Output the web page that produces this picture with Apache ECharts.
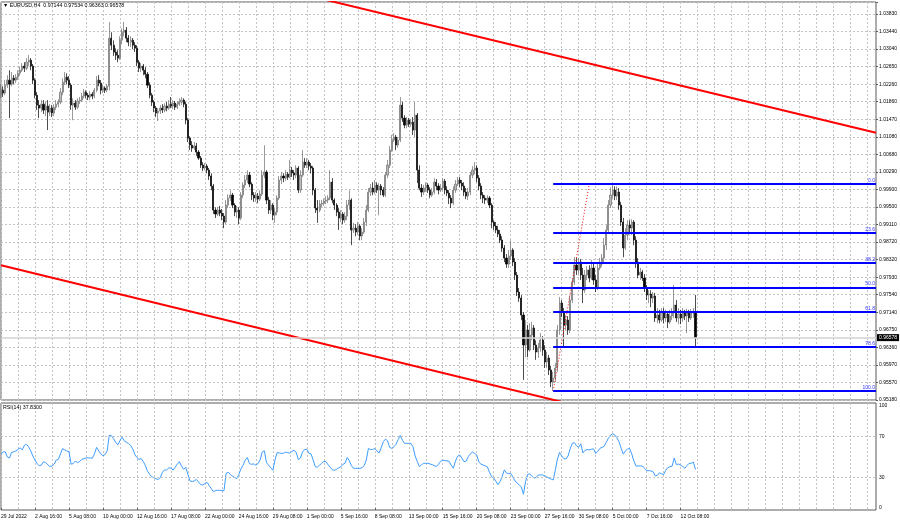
<!DOCTYPE html>
<html><head><meta charset="utf-8">
<script src="https://cdn.jsdelivr.net/npm/echarts@6/dist/echarts.min.js"></script>
<style>html,body{margin:0;padding:0;background:#fff}#c{width:900px;height:523px}</style>
</head><body><div id="c"></div>
<script>
const symbolName = 'EURUSD,H4';
const timeLabels = ['29 Jul 2022','2 Aug 16:00','5 Aug 08:00','10 Aug 00:00','12 Aug 16:00','17 Aug 08:00','22 Aug 00:00','24 Aug 16:00','29 Aug 08:00','1 Sep 00:00','5 Sep 16:00','8 Sep 08:00','13 Sep 00:00','15 Sep 16:00','20 Sep 08:00','23 Sep 00:00','27 Sep 16:00','30 Sep 08:00','5 Oct 00:00','7 Oct 16:00','12 Oct 08:00'];
const priceTicks = ['0.95180','0.95570','0.95970','0.96360','0.96750','0.97140','0.97540','0.97930','0.98320','0.98720','0.99110','0.99500','0.99900','1.00290','1.00680','1.01080','1.01470','1.01860','1.02260','1.02650','1.03040','1.03440','1.03830'];
const rsiTicks = [0, 30, 70, 100];
const rsiLevels = [70, 30];

const opens = [
1.02012,1.02124,1.02057,1.02236,1.02348,1.02258,1.02393,1.02348,1.02415,1.02505,
1.02572,1.02662,1.02617,1.02751,1.02796,1.02662,1.02348,1.02012,1.01788,1.01721,
1.0181,1.01676,1.01766,1.01631,1.01721,1.01609,1.01743,1.0181,1.01855,1.02079,
1.02303,1.02415,1.02348,1.02236,1.01788,1.01833,1.01743,1.01878,1.019,1.0199,
1.02079,1.02012,1.01967,1.02034,1.0199,1.02124,1.02348,1.02281,1.02124,1.02169,
1.02124,1.02214,1.03289,1.03132,1.02975,1.02908,1.02841,1.03244,1.03423,1.03468,
1.03289,1.03199,1.03244,1.03132,1.03065,1.02751,1.02617,1.02662,1.02572,1.02482,
1.02236,1.02012,1.01855,1.01721,1.01609,1.01654,1.01721,1.01676,1.01766,1.01721,
1.0181,1.01766,1.01833,1.01743,1.0181,1.01855,1.019,1.0181,1.01452,1.01049,
1.00892,1.00825,1.0087,1.00735,1.00601,1.00444,1.00377,1.00422,1.00332,1.00198,
0.99974,0.99436,0.99346,0.99436,0.99369,0.99302,0.99167,0.99548,0.99705,0.99772,
0.99548,0.99391,0.99436,0.99257,0.99772,0.99996,1.00108,1.0022,1.00018,0.99772,
0.99705,0.9975,0.99682,0.99794,1.0022,1.00287,0.9966,0.99436,0.99548,0.99324,
0.99391,0.99705,1.00108,1.00198,1.00153,1.00242,1.00175,1.00332,1.00265,1.0022,
1.00377,0.99884,1.0022,1.00511,1.00444,1.00511,1.00422,1.00377,0.99884,0.99481,
0.99436,0.9957,0.99593,0.99638,0.9966,0.99705,1.00063,0.9966,0.99548,0.99391,
0.99257,0.99346,0.99212,0.99302,0.99548,0.9966,0.98988,0.99033,0.98943,0.99078,
0.98854,0.98943,0.99167,0.99436,0.99839,0.99929,0.99839,0.99996,0.99884,0.99974,
0.99884,0.99772,1.0022,1.00444,1.0078,1.01004,1.01071,1.00892,1.01004,1.01788,
1.01497,1.0134,1.01452,1.01362,1.01407,1.01228,1.01564,1.00332,0.99929,0.99839,
0.99929,0.99996,0.99884,0.99772,0.99839,1.00063,0.99974,0.99884,0.99929,1.00086,
0.99884,0.99817,0.99705,0.99593,0.99884,1.00018,1.00108,1.00041,0.99974,0.99839,
0.9975,0.99839,1.0022,1.00332,1.00377,1.00153,0.99974,0.99772,0.99705,0.9966,
0.99705,0.99548,0.99167,0.99078,0.98988,0.98898,0.98764,0.98585,0.98361,0.98226,
0.98406,0.9854,0.98271,0.9798,0.97599,0.97465,0.97084,0.96412,0.96748,0.963,
0.96636,0.96793,0.96412,0.96255,0.96345,0.96524,0.963,0.96031,0.96121,0.95852,
0.95583,0.95673,0.95897,0.96748,0.97353,0.97151,0.9686,0.96972,0.96748,0.9742,
0.97823,0.98204,0.98092,0.98271,0.9798,0.97644,0.9798,0.98092,0.97913,0.98137,
0.97868,0.97689,0.98137,0.98226,0.98361,0.98652,0.98988,0.99548,0.99772,0.99884,
0.9975,0.99839,0.99548,0.99167,0.98585,0.98876,0.991,0.99033,0.99167,0.98764,
0.98271,0.9798,0.98047,0.97913,0.97689,0.97532,0.97554,0.97465,0.9751,0.97017,
0.97084,0.96972,0.97151,0.97017,0.97106,0.96927,0.97062,0.97151,0.97308,0.97017,
0.97106,0.97017,0.97151,0.97062,0.97129,0.97017,0.97129,0.97144
];
const highs = [
1.0226,1.0221,1.0235,1.0246,1.0257,1.0253,1.0246,1.0248,1.0257,1.0266,
1.0273,1.0275,1.0284,1.0291,1.0284,1.0271,1.0239,1.0208,1.0190,1.0190,
1.0190,1.0186,1.0190,1.0181,1.0179,1.0181,1.0190,1.0192,1.0217,1.0239,
1.0253,1.0250,1.0244,1.0228,1.0194,1.0190,1.0194,1.0197,1.0206,1.0215,
1.0212,1.0206,1.0210,1.0208,1.0217,1.0244,1.0246,1.0235,1.0224,1.0221,
1.0226,1.0365,1.0342,1.0324,1.0306,1.0302,1.0333,1.0351,1.0365,1.0354,
1.0336,1.0333,1.0329,1.0320,1.0313,1.0280,1.0273,1.0271,1.0264,1.0253,
1.0230,1.0206,1.0190,1.0177,1.0172,1.0179,1.0181,1.0183,1.0186,1.0190,
1.0197,1.0190,1.0188,1.0188,1.0194,1.0197,1.0194,1.0186,1.0150,1.0109,
1.0098,1.0096,1.0094,1.0078,1.0065,1.0051,1.0049,1.0047,1.0038,1.0026,
1.0002,0.9950,0.9950,0.9953,0.9946,0.9937,0.9966,0.9979,0.9988,0.9982,
0.9959,0.9953,0.9950,0.9984,1.0006,1.0022,1.0033,1.0029,1.0006,0.9984,
0.9984,0.9982,0.9988,1.0033,1.0089,1.0033,0.9973,0.9966,0.9959,0.9948,
0.9977,1.0020,1.0029,1.0026,1.0033,1.0029,1.0056,1.0040,1.0033,1.0044,
1.0042,1.0033,1.0078,1.0060,1.0060,1.0056,1.0049,1.0042,0.9993,0.9966,
0.9966,0.9966,0.9970,0.9975,0.9977,1.0033,1.0015,0.9970,0.9959,0.9948,
0.9944,0.9939,0.9939,0.9966,0.9988,0.9970,0.9915,0.9912,0.9917,0.9912,
0.9903,0.9926,0.9955,0.9993,1.0002,1.0006,1.0011,1.0006,1.0004,1.0002,
0.9995,1.0029,1.0056,1.0087,1.0112,1.0116,1.0112,1.0107,1.0197,1.0186,
1.0156,1.0152,1.0150,1.0147,1.0152,1.0186,1.0161,1.0044,1.0002,1.0000,
1.0006,1.0004,0.9995,0.9993,1.0015,1.0013,1.0004,1.0002,1.0015,1.0013,
0.9997,0.9988,0.9977,0.9997,1.0011,1.0018,1.0018,1.0011,1.0006,0.9993,
0.9993,1.0029,1.0042,1.0051,1.0044,1.0022,1.0004,0.9984,0.9977,0.9977,
0.9975,0.9959,0.9921,0.9917,0.9908,0.9899,0.9885,0.9865,0.9845,0.9854,
0.9876,0.9858,0.9836,0.9805,0.9769,0.9753,0.9715,0.9697,0.9686,0.9690,
0.9693,0.9686,0.9652,0.9646,0.9668,0.9661,0.9641,0.9626,0.9619,0.9594,
0.9581,0.9601,0.9686,0.9749,0.9742,0.9724,0.9708,0.9706,0.9751,0.9791,
0.9838,0.9836,0.9836,0.9834,0.9814,0.9809,0.9818,0.9820,0.9832,0.9827,
0.9798,0.9825,0.9836,0.9845,0.9881,0.9910,0.9966,0.9995,1.0000,0.9997,
0.9997,0.9993,0.9962,0.9926,0.9903,0.9921,0.9921,0.9923,0.9921,0.9885,
0.9836,0.9814,0.9809,0.9800,0.9776,0.9764,0.9764,0.9760,0.9758,0.9724,
0.9720,0.9724,0.9724,0.9720,0.9717,0.9720,0.9724,0.9776,0.9742,0.9724,
0.9720,0.9724,0.9720,0.9722,0.9720,0.9722,0.9724,0.97534
];
const lows = [
1.0194,1.0197,1.0201,1.0217,1.0150,1.0221,1.0226,1.0228,1.0235,1.0244,
1.0253,1.0253,1.0257,1.0266,1.0257,1.0226,1.0194,1.0168,1.0150,1.0163,
1.0159,1.0154,1.0123,1.0154,1.0152,1.0154,1.0168,1.0174,1.0181,1.0201,
1.0224,1.0226,1.0217,1.0168,1.0145,1.0168,1.0170,1.0181,1.0186,1.0194,
1.0194,1.0190,1.0190,1.0192,1.0194,1.0208,1.0221,1.0203,1.0206,1.0206,
1.0208,1.0212,1.0302,1.0289,1.0280,1.0275,1.0280,1.0315,1.0333,1.0320,
1.0311,1.0309,1.0304,1.0298,1.0266,1.0253,1.0253,1.0246,1.0239,1.0217,
1.0194,1.0177,1.0163,1.0152,1.0143,1.0159,1.0161,1.0163,1.0165,1.0168,
1.0172,1.0170,1.0168,1.0170,1.0177,1.0179,1.0174,1.0136,1.0096,1.0078,
1.0074,1.0078,1.0065,1.0056,1.0038,1.0031,1.0033,1.0026,1.0011,0.9988,
0.9935,0.9926,0.9930,0.9930,0.9921,0.9903,0.9912,0.9948,0.9964,0.9948,
0.9930,0.9926,0.9912,0.9921,0.9970,0.9993,1.0004,0.9995,0.9966,0.9962,
0.9962,0.9959,0.9964,0.9975,1.0015,0.9957,0.9935,0.9935,0.9921,0.9915,
0.9932,0.9966,1.0002,1.0006,1.0009,1.0011,1.0015,1.0018,1.0011,1.0015,
0.9982,0.9982,1.0018,1.0038,1.0038,1.0033,1.0026,0.9977,0.9937,0.9915,
0.9939,0.9950,0.9953,0.9957,0.9959,0.9966,0.9959,0.9944,0.9930,0.9899,
0.9917,0.9912,0.9915,0.9921,0.9944,0.9865,0.9892,0.9885,0.9888,0.9876,
0.9876,0.9890,0.9908,0.9939,0.9975,0.9977,0.9979,0.9982,0.9932,0.9977,
0.9973,0.9973,1.0015,1.0038,1.0074,1.0096,1.0078,1.0083,1.0096,1.0141,
1.0127,1.0127,1.0130,1.0130,1.0112,1.0107,1.0004,0.9988,0.9973,0.9977,
0.9984,0.9982,0.9970,0.9973,0.9979,0.9988,0.9979,0.9984,0.9988,0.9979,
0.9975,0.9957,0.9948,0.9955,0.9982,0.9997,0.9995,0.9988,0.9975,0.9968,
0.9966,0.9977,1.0015,1.0024,1.0006,0.9988,0.9968,0.9959,0.9957,0.9959,
0.9948,0.9903,0.9899,0.9892,0.9883,0.9870,0.9850,0.9827,0.9814,0.9814,
0.9832,0.9818,0.9787,0.9751,0.9738,0.9697,0.9563,0.9614,0.9614,0.9626,
0.9652,0.9630,0.9608,0.9612,0.9626,0.9617,0.9590,0.9590,0.9574,0.9547,
0.9538,0.9558,0.9581,0.9664,0.9704,0.9637,0.9675,0.9664,0.9668,0.9735,
0.9776,0.9798,0.9800,0.9787,0.9735,0.9758,0.9787,0.9782,0.9787,0.9776,
0.9760,0.9764,0.9809,0.9816,0.9827,0.9854,0.9894,0.9948,0.9970,0.9966,
0.9966,0.9944,0.9908,0.9838,0.9854,0.9876,0.9892,0.9888,0.9865,0.9814,
0.9791,0.9787,0.9785,0.9760,0.9742,0.9735,0.9726,0.9735,0.9693,0.9690,
0.9690,0.9693,0.9690,0.9693,0.9679,0.9688,0.9697,0.9702,0.9693,0.9688,
0.9688,0.9693,0.9697,0.9668,0.9693,0.9697,0.9702,0.96363
];
const closes = [
1.02124,1.02057,1.02236,1.02348,1.02258,1.02393,1.02348,1.02415,1.02505,1.02572,
1.02662,1.02617,1.02751,1.02796,1.02662,1.02348,1.02012,1.01788,1.01721,1.0181,
1.01676,1.01766,1.01631,1.01721,1.01609,1.01743,1.0181,1.01855,1.02079,1.02303,
1.02415,1.02348,1.02236,1.01788,1.01833,1.01743,1.01878,1.019,1.0199,1.02079,
1.02012,1.01967,1.02034,1.0199,1.02124,1.02348,1.02281,1.02124,1.02169,1.02124,
1.02214,1.03289,1.03132,1.02975,1.02908,1.02841,1.03244,1.03423,1.03468,1.03289,
1.03199,1.03244,1.03132,1.03065,1.02751,1.02617,1.02662,1.02572,1.02482,1.02236,
1.02012,1.01855,1.01721,1.01609,1.01654,1.01721,1.01676,1.01766,1.01721,1.0181,
1.01766,1.01833,1.01743,1.0181,1.01855,1.019,1.0181,1.01452,1.01049,1.00892,
1.00825,1.0087,1.00735,1.00601,1.00444,1.00377,1.00422,1.00332,1.00198,0.99974,
0.99436,0.99346,0.99436,0.99369,0.99302,0.99167,0.99548,0.99705,0.99772,0.99548,
0.99391,0.99436,0.99257,0.99772,0.99996,1.00108,1.0022,1.00018,0.99772,0.99705,
0.9975,0.99682,0.99794,1.0022,1.00287,0.9966,0.99436,0.99548,0.99324,0.99391,
0.99705,1.00108,1.00198,1.00153,1.00242,1.00175,1.00332,1.00265,1.0022,1.00377,
0.99884,1.0022,1.00511,1.00444,1.00511,1.00422,1.00377,0.99884,0.99481,0.99436,
0.9957,0.99593,0.99638,0.9966,0.99705,1.00063,0.9966,0.99548,0.99391,0.99257,
0.99346,0.99212,0.99302,0.99548,0.9966,0.98988,0.99033,0.98943,0.99078,0.98854,
0.98943,0.99167,0.99436,0.99839,0.99929,0.99839,0.99996,0.99884,0.99974,0.99884,
0.99772,1.0022,1.00444,1.0078,1.01004,1.01071,1.00892,1.01004,1.01788,1.01497,
1.0134,1.01452,1.01362,1.01407,1.01228,1.01564,1.00332,0.99929,0.99839,0.99929,
0.99996,0.99884,0.99772,0.99839,1.00063,0.99974,0.99884,0.99929,1.00086,0.99884,
0.99817,0.99705,0.99593,0.99884,1.00018,1.00108,1.00041,0.99974,0.99839,0.9975,
0.99839,1.0022,1.00332,1.00377,1.00153,0.99974,0.99772,0.99705,0.9966,0.99705,
0.99548,0.99167,0.99078,0.98988,0.98898,0.98764,0.98585,0.98361,0.98226,0.98406,
0.9854,0.98271,0.9798,0.97599,0.97465,0.97084,0.96412,0.96748,0.963,0.96636,
0.96793,0.96412,0.96255,0.96345,0.96524,0.963,0.96031,0.96121,0.95852,0.95583,
0.95673,0.95897,0.96748,0.97353,0.97151,0.9686,0.96972,0.96748,0.9742,0.97823,
0.98204,0.98092,0.98271,0.9798,0.97644,0.9798,0.98092,0.97913,0.98137,0.97868,
0.97689,0.98137,0.98226,0.98361,0.98652,0.98988,0.99548,0.99772,0.99884,0.9975,
0.99839,0.99548,0.99167,0.98585,0.98876,0.991,0.99033,0.99167,0.98764,0.98271,
0.9798,0.98047,0.97913,0.97689,0.97532,0.97554,0.97465,0.9751,0.97017,0.97084,
0.96972,0.97151,0.97017,0.97106,0.96927,0.97062,0.97151,0.97308,0.97017,0.97106,
0.97017,0.97151,0.97062,0.97129,0.97017,0.97129,0.97144,0.96578
];
const rsi14 = [
53,55,55,50,49,54.6,55,56,57.5,59,
57,61.5,62.4,60,56,51,47,43.5,41.5,42,
45.4,44.5,42.5,40.8,41,43,47,47.7,53,58.2,
57,56,55.2,43,43.5,46,44.5,45.5,47.7,48.3,
49.1,49.3,49,48.8,53,59.5,56,53,51.2,52.5,
56,71.5,71,68,64.5,62,66,69.5,66,64.5,
63.3,61.5,58,52.5,49.5,47.5,48.5,45.5,41.5,36,
33,30.6,29.6,28.7,27.8,30,35,37.3,37.3,39.3,
39.2,37.2,40,43,45.5,41,38,39.8,33,26.5,
26,26.5,28,25.5,23,22.6,24,25.2,22,19,
16,17,17.5,17.2,17,17,34,35,33,31.2,
30,28.7,33,38.5,42,47,49.5,43.5,42.8,43.3,
42,43.5,47.2,55,56,44.5,42,39.5,37,47,
54.3,54,53.6,53.7,54.7,54.5,53.7,55.6,56.5,54.5,
47.5,49,55,57.5,57.5,53.7,53,47,40.5,40,
42,43.8,45.6,45.5,42.4,40,37.5,37,38,39.3,
40.5,42.8,43.9,49.5,46.4,41.5,38.9,38.9,38.9,38.9,
39.5,41.5,47,58.3,57.4,57.3,58.4,56,53.8,59,
65,67.5,66,59.5,58.5,60,62.5,67.2,71,66.5,
63.4,63.4,63.4,63.4,60,51,45.5,40.6,42.4,43.8,
43.8,43.8,43.2,42.5,41.5,40.6,43,45.8,47,46.5,
46.2,45.7,42,39,46,50.8,51.9,49,45.4,46,
50.3,52.9,55,53.5,52,45,43,42.2,41.3,40.4,
35,30.7,29.3,26.2,23,26,31,37.3,34.4,33.6,
34,30.5,26.5,24.6,22.6,20.6,13.5,26,33,33.5,
31,29.3,30,32.4,32.4,32.4,31.6,30.5,29.4,28.4,
27.5,37,48,54.5,51,48.5,48,51,58,63.5,
64,61,59.5,63,54,56.5,57.3,57,57.6,58,
53.5,55.5,58.5,59.5,60.5,64.5,68.5,71.5,72.8,71.7,
69,65,58.5,52.8,56,57.8,58.3,53,46,41.2,
41.2,41.2,41.2,39,36.6,36.6,36.4,35.7,31.5,32,
34.5,33.5,32.8,37,39.7,40.5,41,49,42.5,43.1,
42,40.7,39,41.5,43.8,43.8,45,37.83
];
const fibLabels = ['0.0','23.6','38.2','50.0','61.8','78.6','100.0'];
const fibPrices = [1.0002, 0.98925, 0.98248, 0.97700, 0.97152, 0.96372, 0.9538];
const fibAnchorBars = [260, 277];
const fibAnchorPrices = [0.9538, 1.0002];
const channelUpper = [[150, 1.0418], [412, 1.0117]];
const channelLower = [[0, 0.9820], [300, 0.9472]];

// axis extent
const slotCount = 413;
const priceMin = 0.9518, priceStep = 0.0039318, priceTickSpan = 22.684;
const priceMax = priceMin + priceTickSpan * priceStep;

const FONT = 'Liberation Sans';
const cats = Array.from({length: slotCount}, (_, i) => String(i));
const candles = closes.map((c, i) => [opens[i], c, lows[i], highs[i]]);
const last = closes.length - 1;
const gridLine = {color: '#c4c4c4', type: [2, 2], width: 1};
const frame = '#5a5a5a';

const chart = echarts.init(document.getElementById('c'), null, {renderer: 'canvas'});
chart.setOption({
  animation: false,
  textStyle: {fontFamily: FONT},
  title: [
    {text: '\u25BC ' + symbolName + '  ' + [opens[last], highs[last], lows[last], closes[last]].map(v => v.toFixed(5)).join(' '),
     left: 3, top: 3, padding: 0, textStyle: {fontSize: 5.3, fontWeight: 'normal', color: '#000', fontFamily: FONT}},
    {text: 'RSI(14) ' + rsi14[last].toFixed(4), left: 3, top: 405, padding: 0,
     textStyle: {fontSize: 5.3, fontWeight: 'normal', color: '#000', fontFamily: FONT}}
  ],
  grid: [
    {left: 1, right: 24, top: 2, height: 398, show: true, borderColor: frame, borderWidth: 1, containLabel: false, outerBoundsMode: 'none'},
    {left: 1, right: 24, top: 403, height: 107, show: true, borderColor: frame, borderWidth: 1, containLabel: false, outerBoundsMode: 'none'}
  ],
  xAxis: [
    {type: 'category', gridIndex: 0, data: cats, boundaryGap: false,
     axisLine: {show: false}, axisTick: {show: false}, axisLabel: {show: false},
     splitLine: {show: true, interval: i => i % 8 === 0, lineStyle: gridLine}},
    {type: 'category', gridIndex: 1, data: cats, boundaryGap: false,
     axisLine: {show: false},
     axisTick: {show: true, length: 2, interval: i => i % 16 === 0 && i / 16 < timeLabels.length, lineStyle: {color: frame}},
     axisLabel: {show: true, interval: i => i % 16 === 0 && i / 16 < timeLabels.length,
       formatter: v => timeLabels[Number(v) / 16] || '', align: 'left', fontSize: 5, color: '#000', margin: 4, fontFamily: FONT},
     splitLine: {show: true, interval: i => i % 8 === 0, lineStyle: gridLine}}
  ],
  yAxis: [
    {type: 'value', gridIndex: 0, min: priceMin, max: priceMax, show: false, splitLine: {show: false}},
    {type: 'value', gridIndex: 0, position: 'right', min: 0, max: priceTickSpan, interval: 1,
     axisLine: {show: false},
     axisTick: {show: true, length: 2, lineStyle: {color: frame}},
     axisLabel: {fontSize: 5, color: '#000', margin: 3, fontFamily: FONT,
       formatter: v => { const k = Math.round(v); return (Math.abs(v - k) < 1e-6 && priceTicks[k]) ? priceTicks[k] : ''; }},
     splitLine: {show: true, lineStyle: gridLine}},
    {type: 'value', gridIndex: 1, position: 'right', min: -2, max: 103, interval: 1,
     axisLine: {show: false}, axisTick: {show: false},
     axisLabel: {fontSize: 5, color: '#000', margin: 3, fontFamily: FONT,
       formatter: v => rsiTicks.includes(Math.round(v)) && Math.abs(v - Math.round(v)) < 1e-6 ? String(Math.round(v)) : ''},
     splitLine: {show: false}}
  ],
  series: [
    {type: 'candlestick', xAxisIndex: 0, yAxisIndex: 0, data: candles, barWidth: 1.6,
     itemStyle: {color: '#bdbdbd', color0: '#000000', borderColor: '#6e6e6e', borderColor0: '#000000', borderWidth: 0.7},
     silent: true,
     markLine: {
       symbol: ['none', 'none'], silent: true, animation: false,
       data: [[
         {coord: [0, closes[last]], lineStyle: {color: '#d2d2d2', width: 1.5, type: 'solid'},
          label: {show: true, position: 'end', formatter: closes[last].toFixed(5), backgroundColor: '#000', color: '#fff',
                  fontSize: 5, padding: [1, 2], distance: 1, fontFamily: FONT}},
         {coord: [slotCount - 1, closes[last]]}
       ]].concat(fibPrices.map((p, k) => [
         {coord: [fibAnchorBars[0], p], lineStyle: {color: '#0000ff', width: 2, type: 'solid'},
          label: {show: true, position: 'insideEndTop', formatter: fibLabels[k], color: '#3535ff', fontSize: 5, distance: 1, fontFamily: FONT}},
         {coord: [slotCount - 1, p]}
       ]))
     }},
    {type: 'line', xAxisIndex: 0, yAxisIndex: 0, data: channelUpper, symbol: 'none', clip: true, silent: true,
     lineStyle: {color: '#ff0000', width: 2}},
    {type: 'line', xAxisIndex: 0, yAxisIndex: 0, data: channelLower, symbol: 'none', clip: true, silent: true,
     lineStyle: {color: '#ff0000', width: 2}},
    {type: 'line', xAxisIndex: 0, yAxisIndex: 0, data: [[fibAnchorBars[0], fibAnchorPrices[0]], [fibAnchorBars[1], fibAnchorPrices[1]]],
     symbol: 'none', clip: true, silent: true, lineStyle: {color: '#ff0000', width: 1, type: [1, 2]}},
    {type: 'line', xAxisIndex: 1, yAxisIndex: 2, data: rsi14, symbol: 'none', silent: true,
     lineStyle: {color: '#3d9cff', width: 1},
     markLine: {symbol: ['none', 'none'], silent: true, animation: false, label: {show: false},
       lineStyle: gridLine, data: rsiLevels.map(v => ({yAxis: v}))}}
  ]
});
</script>
</body></html>
